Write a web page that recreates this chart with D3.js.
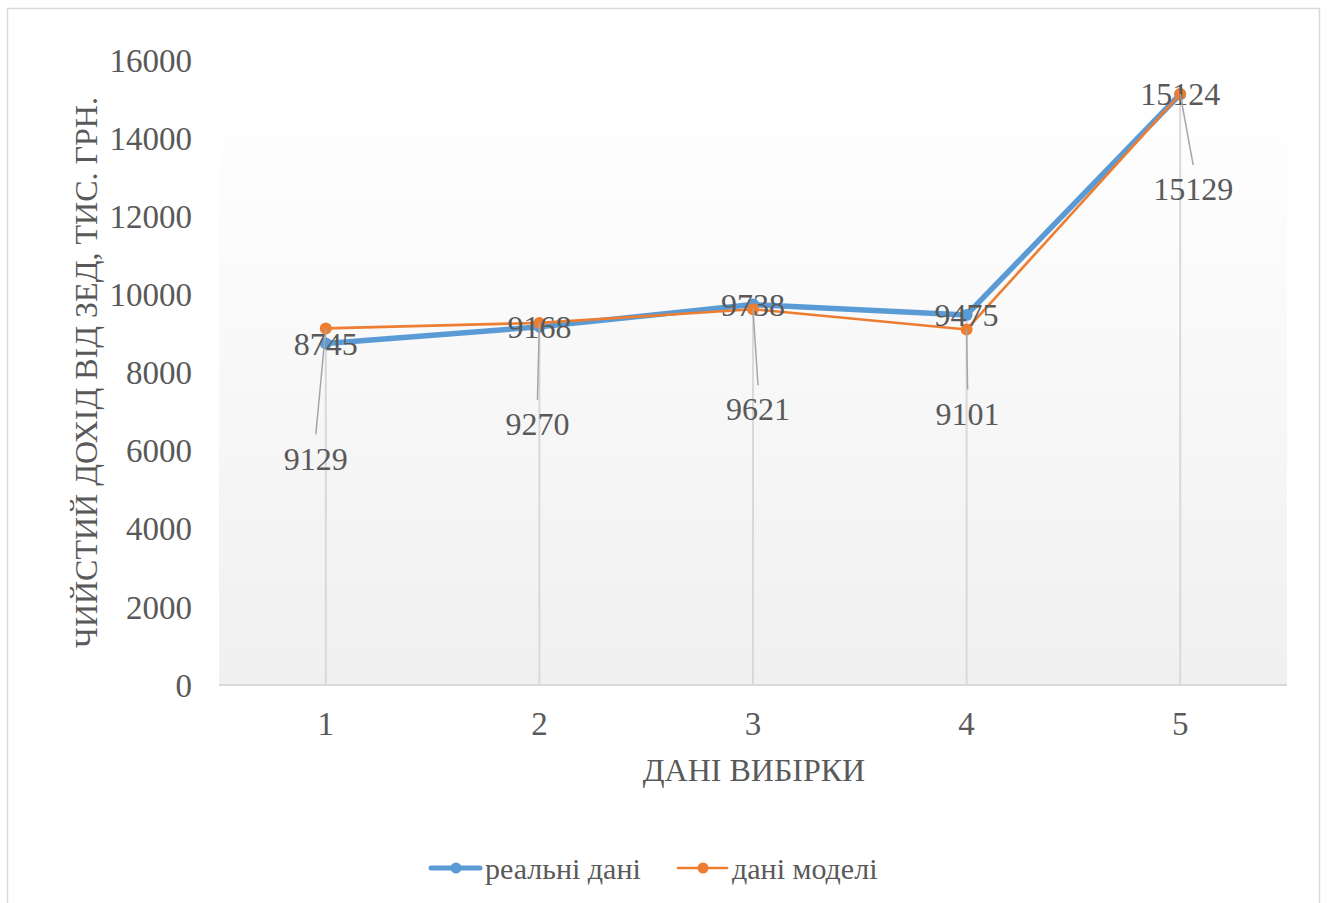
<!DOCTYPE html>
<html>
<head>
<meta charset="utf-8">
<script src="https://cdn.jsdelivr.net/npm/d3@7"></script>
<style>
  html, body { margin: 0; padding: 0; background: #fff; }
  svg { display: block; }
  text { font-family: "Liberation Serif", "Times New Roman", serif; fill: #595959; }
</style>
</head>
<body>
<svg id="chart" width="1327" height="903"></svg>
<script>
// Sample indices and the two series
const categories = ["1", "2", "3", "4", "5"];
const realValues = [8745, 9168, 9738, 9475, 15124];
const modelValues = [9129, 9270, 9621, 9101, 15129];
const yTicks = [0, 2000, 4000, 6000, 8000, 10000, 12000, 14000, 16000];
const seriesNames = ["реальні дані", "дані моделі"];

// Pixel shifts of the model labels (pulled below their points with leader lines)
const modelLabelShift = [[-10, 130], [-2, 101], [5, 100], [1, 84], [13, 95]];

const W = 1327, H = 903;
const plot = { left: 219, right: 1287, top: 60, bottom: 685 };
const colors = { real: "#5B9BD5", model: "#ED7D31" };

const svg = d3.select("#chart");

// Chart frame
svg.append("rect")
  .attr("x", 7.5).attr("y", 8.5)
  .attr("width", 1312).attr("height", 910)
  .attr("fill", "#fff").attr("stroke", "#d9d9d9").attr("stroke-width", 1.5);

const x = d3.scaleBand().domain(categories).range([plot.left, plot.right]);
const y = d3.scaleLinear().domain([0, 16000]).range([plot.bottom, plot.top]);
const cx = c => x(c) + x.bandwidth() / 2;

// Plot area with soft vertical gradient
const defs = svg.append("defs");
const grad = defs.append("linearGradient").attr("id", "plotFill")
  .attr("x1", 0).attr("y1", 0).attr("x2", 0).attr("y2", 1);
grad.append("stop").attr("offset", "0%").attr("stop-color", "#ffffff");
grad.append("stop").attr("offset", "12%").attr("stop-color", "#fefefe");
grad.append("stop").attr("offset", "100%").attr("stop-color", "#f0f0f0");

svg.append("rect")
  .attr("x", plot.left).attr("y", y(16000))
  .attr("width", plot.right - plot.left).attr("height", plot.bottom - y(16000))
  .attr("fill", "url(#plotFill)");

// Drop lines from the higher point of each category down to the axis
svg.append("g").selectAll("line")
  .data(categories)
  .join("line")
  .attr("x1", d => cx(d)).attr("x2", d => cx(d))
  .attr("y1", (d, i) => y(Math.max(realValues[i], modelValues[i])))
  .attr("y2", y(0))
  .attr("stroke", "#d9d9d9").attr("stroke-width", 2);

// Category axis
const xAxis = svg.append("g")
  .attr("transform", `translate(0,${plot.bottom})`)
  .call(d3.axisBottom(x).tickSize(0).tickPadding(0));
xAxis.select(".domain").attr("stroke", "#d9d9d9").attr("stroke-width", 2.2)
  .attr("d", `M${plot.left},0H${plot.right}`);
xAxis.selectAll("text")
  .attr("y", 50).attr("dy", null)
  .attr("font-size", 33).attr("fill", "#595959")
  .attr("font-family", "Liberation Serif, Times New Roman, serif");

// Value axis (labels only)
const yAxis = svg.append("g")
  .attr("transform", `translate(${plot.left},0)`)
  .call(d3.axisLeft(y).tickValues(yTicks).tickSize(0).tickPadding(27).tickFormat(d3.format("d")));
yAxis.select(".domain").remove();
yAxis.selectAll("text")
  .attr("dy", "0.34em")
  .attr("font-size", 33).attr("fill", "#595959")
  .attr("font-family", "Liberation Serif, Times New Roman, serif");

// Axis titles
svg.append("text")
  .attr("transform", `translate(97,${(plot.top + plot.bottom) / 2}) rotate(-90)`)
  .attr("text-anchor", "middle")
  .attr("font-size", 32)
  .text("ЧИЙСТИЙ ДОХІД ВІД ЗЕД, ТИС. ГРН.");

svg.append("text")
  .attr("x", (plot.left + plot.right) / 2 + 1).attr("y", 781)
  .attr("text-anchor", "middle")
  .attr("font-size", 32)
  .text("ДАНІ ВИБІРКИ");

// Series lines and markers
const line = d3.line().x((d, i) => cx(categories[i])).y(d => y(d));

svg.append("path").datum(realValues)
  .attr("d", line).attr("fill", "none")
  .attr("stroke", colors.real).attr("stroke-width", 5.5)
  .attr("stroke-linejoin", "round").attr("stroke-linecap", "round");
svg.append("g").selectAll("circle").data(realValues).join("circle")
  .attr("cx", (d, i) => cx(categories[i])).attr("cy", d => y(d))
  .attr("r", 6).attr("fill", colors.real);

svg.append("path").datum(modelValues)
  .attr("d", line).attr("fill", "none")
  .attr("stroke", colors.model).attr("stroke-width", 2.6)
  .attr("stroke-linejoin", "round");
svg.append("g").selectAll("circle").data(modelValues).join("circle")
  .attr("cx", (d, i) => cx(categories[i])).attr("cy", d => y(d))
  .attr("r", 6).attr("fill", colors.model);

// Real-data labels, centred on their points
svg.append("g").selectAll("text").data(realValues).join("text")
  .attr("x", (d, i) => cx(categories[i]))
  .attr("y", d => y(d))
  .attr("dy", "0.35em")
  .attr("text-anchor", "middle")
  .attr("font-size", 32)
  .text(d => d);

// Model-data labels with leader lines
const leaders = svg.append("g");
modelValues.forEach((v, i) => {
  const px = cx(categories[i]), py = y(v);
  const lx = px + modelLabelShift[i][0], ly = py + modelLabelShift[i][1];
  leaders.append("line")
    .attr("x1", px).attr("y1", py)
    .attr("x2", lx).attr("y2", ly - 24)
    .attr("stroke", "#a6a6a6").attr("stroke-width", 1.5);
  leaders.append("text")
    .attr("x", lx).attr("y", ly)
    .attr("dy", "0.35em")
    .attr("text-anchor", "middle")
    .attr("font-size", 32)
    .text(v);
});

// Legend
const legend = svg.append("g").attr("transform", "translate(0,868)");
const legendItems = [
  { name: seriesNames[0], color: colors.real, width: 5, x0: 431 },
  { name: seriesNames[1], color: colors.model, width: 2.6, x0: 678 }
];
legendItems.forEach(it => {
  legend.append("line")
    .attr("x1", it.x0).attr("x2", it.x0 + 49)
    .attr("y1", 0).attr("y2", 0)
    .attr("stroke", it.color).attr("stroke-width", it.width)
    .attr("stroke-linecap", "round");
  legend.append("circle").attr("cx", it.x0 + 25).attr("cy", 0).attr("r", 5.5).attr("fill", it.color);
  legend.append("text")
    .attr("x", it.x0 + 54).attr("y", 0).attr("dy", "0.36em")
    .attr("font-size", 30)
    .text(it.name);
});
</script>
</body>
</html>
